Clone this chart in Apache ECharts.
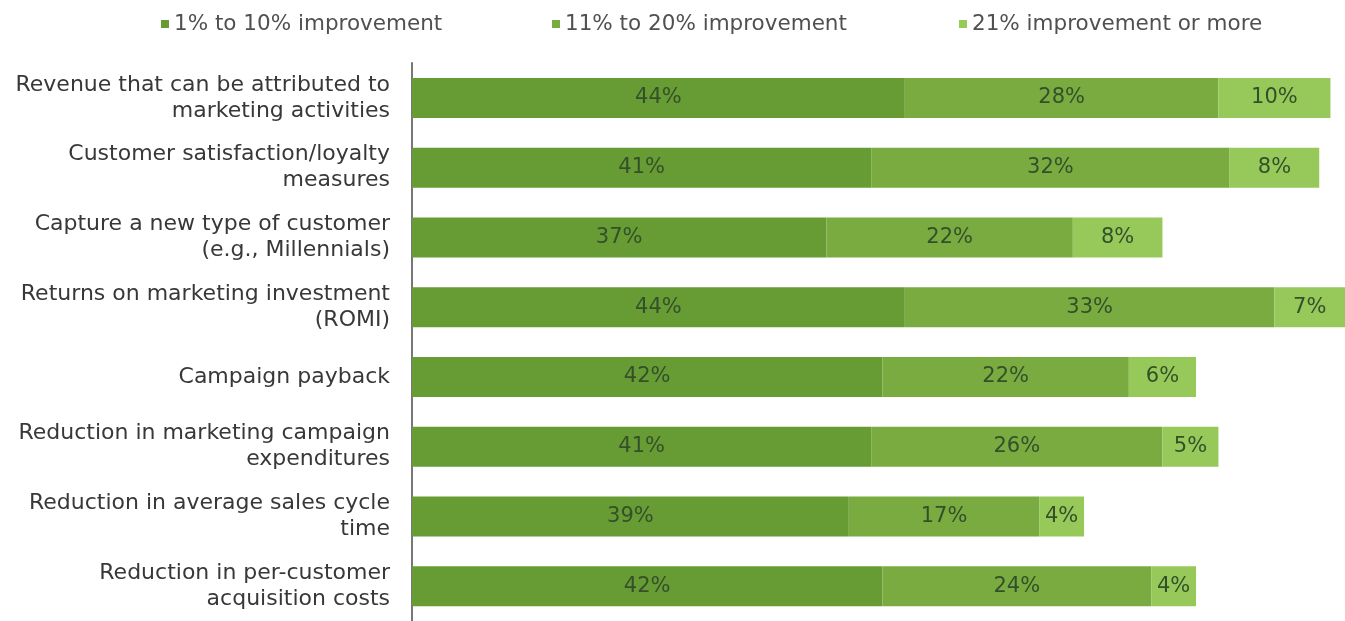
<!DOCTYPE html>
<html><head><meta charset="utf-8">
<script src="https://cdn.jsdelivr.net/npm/echarts@6/dist/echarts.min.js"></script>
<style>html,body{margin:0;padding:0;background:#fff}#c{width:1345px;height:621px}</style>
</head><body><div id="c"></div>
<script>
const categories = [
  'Revenue that can be attributed to\nmarketing activities',
  'Customer satisfaction/loyalty\nmeasures',
  'Capture a new type of customer\n(e.g., Millennials)',
  'Returns on marketing investment\n(ROMI)',
  'Campaign payback',
  'Reduction in marketing campaign\nexpenditures',
  'Reduction in average sales cycle\ntime',
  'Reduction in per-customer\nacquisition costs'
];
const seriesNames = ['1% to 10% improvement', '11% to 20% improvement', '21% improvement or more'];
const low = [44, 41, 37, 44, 42, 41, 39, 42];
const mid = [28, 32, 22, 33, 22, 26, 17, 24];
const high = [10, 8, 8, 7, 6, 5, 4, 4];
const colors = ['#679b34', '#79ab41', '#97c95a'];
const FONT = 'DejaVu Sans, Verdana, sans-serif';

const chart = echarts.init(document.getElementById('c'));
const mk = (name, data, i) => ({
  name, type: 'bar', stack: 'a', data, barWidth: 40,
  itemStyle: { color: colors[i] },
  label: { show: true, position: 'inside', formatter: '{c}%', color: '#34502a',
           fontFamily: FONT, fontSize: 21 }
});
const legendLefts = [156, 547, 954];
chart.setOption({
  animation: false,
  legend: seriesNames.map((n, i) => ({
    top: 8, left: legendLefts[i], itemWidth: 8, itemHeight: 8, icon: 'rect', itemGap: 0,
    textStyle: { fontFamily: FONT, fontSize: 21.5, color: '#505050' },
    data: [n]
  })),
  grid: { left: 412, right: 0, top: 63, height: 563, containLabel: false },
  xAxis: { type: 'value', min: 0, max: 83.3, show: false },
  yAxis: {
    type: 'category', data: categories, inverse: true,
    axisLine: { show: true, lineStyle: { color: '#777', width: 2 } },
    axisTick: { show: false },
    axisLabel: { margin: 22, fontFamily: FONT, fontSize: 22,
                 color: '#383838', lineHeight: 26, align: 'right' }
  },
  series: [mk(seriesNames[0], low, 0), mk(seriesNames[1], mid, 1), mk(seriesNames[2], high, 2)]
});
</script></body></html>
